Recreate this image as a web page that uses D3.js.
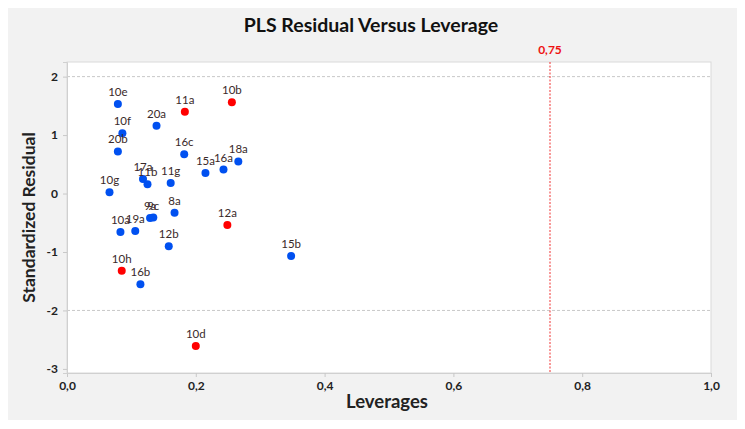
<!DOCTYPE html>
<html>
<head>
<meta charset="utf-8">
<script src="https://cdn.jsdelivr.net/npm/d3@7"></script>
<style>
  body { margin: 0; background: #fff; }
  svg { display: block; font-family: Lato, "Open Sans", sans-serif; }
</style>
</head>
<body>
<svg id="chart" width="745" height="429"></svg>
<script>
const labels = ["10e", "10b", "11a", "20a", "10f", "20b", "16c", "18a", "16a", "15a", "17a", "11b", "11g", "10g",
                "8a", "9a", "9c", "10a", "19a", "12a", "12b", "15b", "10h", "16b", "10d"];
const leverages = [0.079, 0.256, 0.183, 0.139, 0.086, 0.079, 0.182, 0.266, 0.243, 0.215, 0.118, 0.125, 0.161, 0.066,
                   0.167, 0.129, 0.134, 0.083, 0.106, 0.249, 0.158, 0.348, 0.085, 0.114, 0.200];
const residuals = [1.53, 1.56, 1.40, 1.16, 1.03, 0.72, 0.67, 0.55, 0.41, 0.35, 0.25, 0.16, 0.18, 0.02,
                   -0.33, -0.42, -0.41, -0.66, -0.64, -0.54, -0.90, -1.07, -1.32, -1.55, -2.61];
const unusual = ["10b", "11a", "12a", "10h", "10d"];
const xTicks = [0, 0.2, 0.4, 0.6, 0.8, 1.0];
const yTicks = [-3, -2, -1, 0, 1, 2];
const cutoff = 0.75;

const svg = d3.select("#chart");
const margin = { top: 62, right: 34, bottom: 56, left: 67 };
const width = 745 - margin.left - margin.right;
const height = 429 - margin.top - margin.bottom;

// gray panel behind everything
svg.append("rect")
    .attr("x", 8).attr("y", 8)
    .attr("width", 729).attr("height", 412)
    .attr("fill", "#f2f2f2");

svg.append("text")
    .attr("x", 371).attr("y", 32)
    .attr("text-anchor", "middle")
    .attr("font-size", 19.5).attr("font-weight", "bold")
    .attr("fill", "#111")
    .text("PLS Residual Versus Leverage");

const g = svg.append("g")
    .attr("transform", `translate(${margin.left},${margin.top})`);

const x = d3.scaleLinear().domain([0, 1]).range([0, width]);
const y = d3.scaleLinear().domain([-3.07, 2.25]).range([height, 0]);

g.append("rect")
    .attr("width", width).attr("height", height)
    .attr("fill", "#fff")
    .attr("stroke", "#d9d9d9");

// reference lines at +/-2
g.selectAll(".ref")
    .data([-2, 2])
    .enter().append("line")
    .attr("x1", 0).attr("x2", width)
    .attr("y1", d => y(d)).attr("y2", d => y(d))
    .attr("stroke", "#c8c8c8")
    .attr("stroke-dasharray", "3,2");

// leverage cutoff
g.append("line")
    .attr("x1", x(cutoff)).attr("x2", x(cutoff))
    .attr("y1", 0).attr("y2", height)
    .attr("stroke", "#f03030")
    .attr("stroke-dasharray", "2,1.5");
g.append("text")
    .attr("x", x(cutoff)).attr("y", -8)
    .attr("text-anchor", "middle")
    .attr("font-size", 12).attr("font-weight", "bold")
    .attr("fill", "#ee1111")
    .text(d3.format(".2f")(cutoff).replace(".", ","));

const comma = d => d3.format(".1f")(d).replace(".", ",");

const xAxis = g.append("g")
    .attr("transform", `translate(0,${height})`)
    .call(d3.axisBottom(x).tickValues(xTicks).tickFormat(comma).tickSize(4));
const yAxis = g.append("g")
    .call(d3.axisLeft(y).tickValues(yTicks).tickFormat(d => String(d)).tickSize(4));

[xAxis, yAxis].forEach(a => {
    a.select(".domain").attr("stroke", "#d0d0d0");
    a.selectAll(".tick line").attr("stroke", "#c8c8c8");
    a.selectAll(".tick text")
        .attr("font-family", "Lato, sans-serif")
        .attr("font-size", 12).attr("font-weight", "bold")
        .attr("fill", "#222");
});
yAxis.selectAll(".tick text").attr("x", -9);
xAxis.selectAll(".tick text").attr("y", 8);

svg.append("text")
    .attr("x", margin.left + width / 2 - 2).attr("y", 408)
    .attr("text-anchor", "middle")
    .attr("font-size", 18.5).attr("font-weight", "bold")
    .attr("fill", "#222")
    .text("Leverages");

svg.append("text")
    .attr("transform", `translate(35,${margin.top + height / 2}) rotate(-90)`)
    .attr("text-anchor", "middle")
    .attr("font-size", 17.5).attr("font-weight", "bold")
    .attr("fill", "#222")
    .text("Standardized Residual");

const pts = labels.map((l, i) => ({ label: l, lev: leverages[i], res: residuals[i] }));

g.selectAll(".pt")
    .data(pts)
    .enter().append("circle")
    .attr("cx", d => x(d.lev))
    .attr("cy", d => y(d.res))
    .attr("r", 4)
    .attr("fill", d => unusual.includes(d.label) ? "#ff0000" : "#0050f0");

g.selectAll(".lbl")
    .data(pts)
    .enter().append("text")
    .attr("x", d => x(d.lev))
    .attr("y", d => y(d.res) - 8)
    .attr("text-anchor", "middle")
    .attr("font-size", 11.5)
    .attr("fill", "#3a2a2a")
    .text(d => d.label);
</script>
</body>
</html>
